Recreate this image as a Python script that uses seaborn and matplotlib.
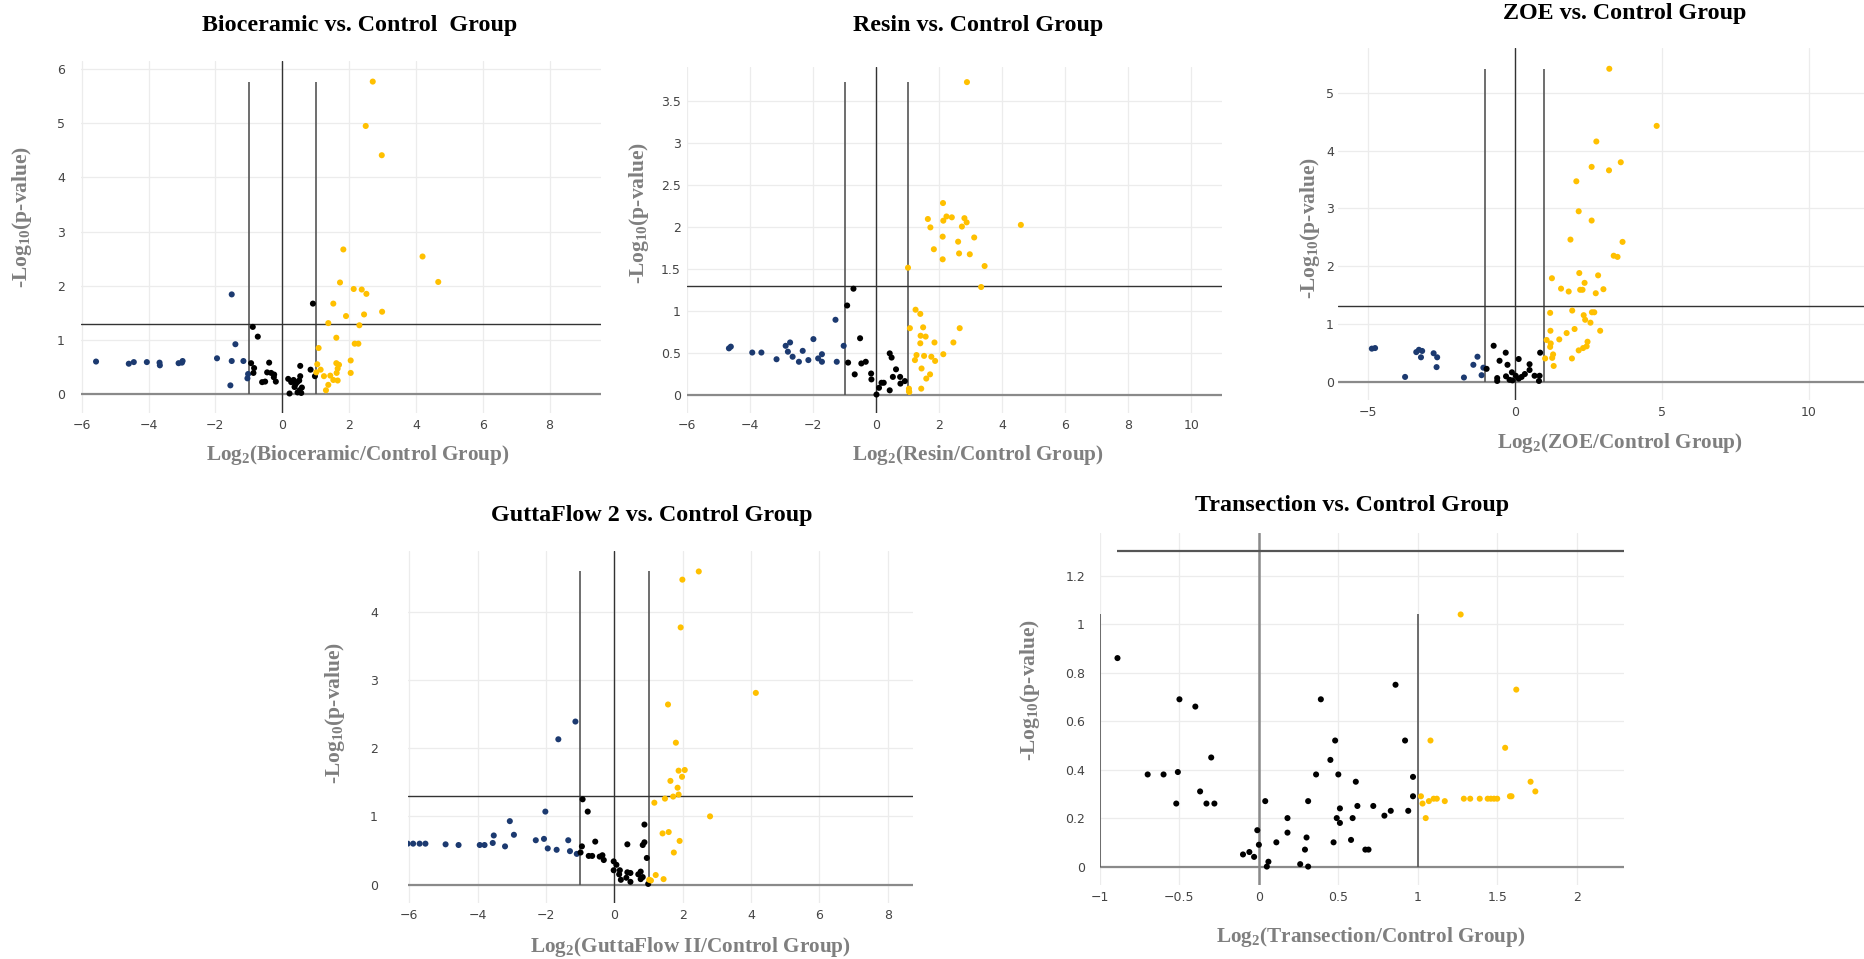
import numpy as np
import pandas as pd
import matplotlib
matplotlib.use("Agg")
import matplotlib.pyplot as plt
import seaborn as sns

sns.set_theme(style="white")
plt.rcParams['font.family'] = ['DejaVu Sans']
plt.rcParams['mathtext.fontset'] = 'custom'
plt.rcParams['mathtext.rm'] = 'Liberation Serif:bold'
plt.rcParams['mathtext.bf'] = 'Liberation Serif:bold'
plt.rcParams['mathtext.default'] = 'bf'

# ---------------- data ----------------
bio_x = [-5.57, -4.59, -4.44, -4.05, -3.67, -3.66, -3.10, -3.00, -2.98, -1.95, -1.51, -1.51, -1.55, -1.40, -1.16, -1.02, -1.04,
         -0.88, -0.73, -0.93, -0.84, -0.86, -0.39, -0.45, -0.33, -0.24, -0.25, -0.19, -0.60, -0.51, 0.18, 0.27, 0.34, 0.40,
         0.37, 0.45, 0.51, 0.54, 0.54, 0.22, 0.46, 0.57, 0.59, 0.52, 0.85, 0.92, 0.98,
         2.71, 2.50, 2.98, 1.83, 4.20, 4.67, 1.73, 2.14, 2.38, 2.52, 1.53, 1.91, 2.45, 2.99, 1.38, 2.31, 1.62, 2.17, 2.28,
         1.09, 2.05, 1.62, 1.70, 1.05, 1.66, 1.63, 2.05, 1.15, 1.02, 1.25, 1.44, 1.53, 1.66, 1.38, 1.31]
bio_y = [0.60, 0.56, 0.59, 0.59, 0.58, 0.53, 0.57, 0.58, 0.61, 0.66, 1.84, 0.61, 0.16, 0.92, 0.61, 0.37, 0.29,
         1.24, 1.06, 0.57, 0.48, 0.39, 0.58, 0.40, 0.39, 0.36, 0.31, 0.23, 0.22, 0.23, 0.28, 0.22, 0.26, 0.18,
         0.13, 0.22, 0.25, 0.33, 0.52, 0.01, 0.03, 0.02, 0.12, 0.07, 0.45, 1.67, 0.33,
         5.77, 4.95, 4.41, 2.67, 2.54, 2.07, 2.06, 1.94, 1.93, 1.85, 1.67, 1.44, 1.47, 1.52, 1.31, 1.27, 1.04, 0.93, 0.93,
         0.85, 0.62, 0.57, 0.54, 0.55, 0.47, 0.39, 0.39, 0.45, 0.40, 0.33, 0.34, 0.26, 0.25, 0.17, 0.07]

resin_x = [-4.61, -4.67, -3.93, -3.64, -3.16, -2.87, -2.73, -2.80, -2.65, -2.45, -2.33, -2.15, -1.99, -1.84, -1.72, -1.72,
           -1.29, -1.25, -1.03,
           -0.72, -0.92, -0.51, -0.89, -0.68, -0.47, -0.33, -0.16, -0.15, 0.01, 0.09, 0.17, 0.24, 0.43, 0.49, 0.43, 0.53,
           0.63, 0.76, 0.77, 0.91,
           2.88, 2.12, 1.64, 2.13, 2.23, 2.40, 2.80, 2.87, 1.72, 2.72, 4.59, 2.11, 2.60, 3.11, 1.83, 2.63, 2.97, 2.11,
           3.44, 1.01, 3.33, 1.25, 1.40, 1.07, 1.49, 2.65, 1.41, 1.57, 1.40, 1.85, 2.45, 1.28, 1.52, 1.75, 2.13, 1.23,
           1.87, 1.44, 1.71, 1.59, 1.43, 1.04, 1.04, 1.05]
resin_y = [0.58, 0.56, 0.51, 0.51, 0.43, 0.59, 0.63, 0.52, 0.46, 0.40, 0.53, 0.42, 0.67, 0.44, 0.49, 0.40,
           0.90, 0.40, 0.59,
           1.27, 1.07, 0.68, 0.39, 0.25, 0.38, 0.40, 0.26, 0.19, 0.01, 0.09, 0.15, 0.15, 0.50, 0.45, 0.06, 0.22,
           0.31, 0.22, 0.14, 0.17,
           3.73, 2.29, 2.10, 2.08, 2.13, 2.12, 2.11, 2.06, 2.00, 2.01, 2.03, 1.89, 1.83, 1.88, 1.74, 1.69, 1.68, 1.62,
           1.54, 1.52, 1.29, 1.02, 0.97, 0.80, 0.81, 0.80, 0.71, 0.70, 0.62, 0.63, 0.63, 0.48, 0.47, 0.46, 0.49, 0.42,
           0.41, 0.32, 0.25, 0.20, 0.08, 0.08, 0.05, 0.04]

zoe_x = [-4.86, -4.75, -3.35, -3.26, -3.15, -3.19, -3.73, -2.76, -2.64, -2.66, -1.73, -1.41, -1.27, -1.13, -1.07,
         -0.96, -0.72, -0.31, -0.52, -0.25, 0.13, -0.60, -0.60, -0.30, -0.18, -0.10, -0.08, 0.03, 0.13, 0.23, 0.34,
         0.50, 0.50, 0.67, 0.86, 0.84, 0.82,
         3.21, 4.82, 2.77, 3.60, 2.61, 3.20, 2.09, 2.17, 2.61, 1.89, 3.66, 3.36, 3.49, 2.19, 2.83, 1.26, 2.37, 1.57,
         1.83, 2.22, 2.30, 2.75, 3.01, 1.20, 1.95, 2.34, 2.39, 2.62, 2.70, 2.57, 1.21, 1.76, 2.03, 2.90, 1.08, 1.51,
         1.22, 1.20, 2.47, 2.44, 2.32, 2.17, 1.30, 1.27, 1.03, 1.94, 1.32]
zoe_y = [0.57, 0.58, 0.51, 0.55, 0.53, 0.42, 0.08, 0.49, 0.42, 0.25, 0.07, 0.29, 0.43, 0.11, 0.24,
         0.22, 0.62, 0.50, 0.36, 0.29, 0.39, 0.06, 0.01, 0.09, 0.03, 0.16, 0.02, 0.10, 0.05, 0.08, 0.13,
         0.20, 0.30, 0.10, 0.50, 0.10, 0.01,
         5.42, 4.43, 4.16, 3.80, 3.72, 3.66, 3.47, 2.95, 2.79, 2.46, 2.42, 2.18, 2.16, 1.88, 1.84, 1.79, 1.71, 1.61,
         1.56, 1.59, 1.59, 1.53, 1.60, 1.19, 1.23, 1.15, 1.07, 1.20, 1.20, 1.02, 0.88, 0.84, 0.91, 0.88, 0.72, 0.73,
         0.66, 0.60, 0.69, 0.61, 0.58, 0.54, 0.47, 0.41, 0.40, 0.40, 0.27]

gutta_x = [-6.05, -5.89, -5.70, -5.53, -4.94, -4.56, -3.94, -3.80, -3.56, -3.53, -3.20, -3.06, -2.94, -2.30, -2.06,
           -2.02, -1.95, -1.69, -1.64, -1.35, -1.30, -1.14, -1.10,
           -0.93, -0.78, -0.95, -0.99, -0.75, -0.65, -0.56, -0.43, -0.35, -0.31, -0.02, 0.06, -0.02, 0.16, 0.14, 0.19,
           0.38, 0.38, 0.47, 0.35, 0.47, 0.70, 0.77, 0.77, 0.83, 0.83, 0.88, 0.88, 0.95, 0.99,
           2.47, 1.99, 1.94, 4.14, 1.57, 1.80, 1.88, 2.06, 1.98, 1.64, 1.85, 1.88, 1.72, 1.48, 1.17, 2.80, 1.41, 1.59,
           1.91, 1.74, 1.21, 1.44, 1.02, 1.07]
gutta_y = [0.60, 0.60, 0.60, 0.60, 0.59, 0.58, 0.58, 0.58, 0.61, 0.72, 0.56, 0.93, 0.73, 0.65, 0.67,
           1.07, 0.53, 0.51, 2.13, 0.65, 0.49, 2.39, 0.45,
           1.25, 1.07, 0.56, 0.47, 0.42, 0.42, 0.63, 0.41, 0.43, 0.36, 0.34, 0.29, 0.21, 0.21, 0.15, 0.07,
           0.59, 0.18, 0.17, 0.10, 0.04, 0.15, 0.19, 0.08, 0.11, 0.58, 0.62, 0.88, 0.39, 0.01,
           4.59, 4.47, 3.77, 2.81, 2.64, 2.08, 1.67, 1.68, 1.58, 1.52, 1.42, 1.32, 1.29, 1.26, 1.20, 1.00, 0.75, 0.77,
           0.64, 0.47, 0.14, 0.08, 0.07, 0.06]

trans_x = [-0.89, -0.70, -0.60, -0.50, -0.51, -0.52, -0.40, -0.30, -0.37, -0.33, -0.28, -0.10, -0.06, -0.03, -0.01,
           0.00, 0.04, 0.05, 0.06, 0.11, 0.18, 0.18, 0.26, 0.29, 0.30, 0.31, 0.31, 0.36, 0.39, 0.45, 0.48, 0.47, 0.49,
           0.50, 0.51, 0.51, 0.58, 0.59, 0.61, 0.62, 0.67, 0.69, 0.72, 0.79, 0.83, 0.86, 0.92, 0.94, 0.97, 0.97,
           1.27, 1.62, 1.08, 1.55, 1.71, 1.74, 1.02, 1.03, 1.07, 1.10, 1.12, 1.17, 1.05, 1.29, 1.33, 1.39, 1.44, 1.46,
           1.48, 1.50, 1.58, 1.59]
trans_y = [0.86, 0.38, 0.38, 0.69, 0.39, 0.26, 0.66, 0.45, 0.31, 0.26, 0.26, 0.05, 0.06, 0.04, 0.15,
           0.09, 0.27, 0.00, 0.02, 0.10, 0.20, 0.14, 0.01, 0.07, 0.12, 0.00, 0.27, 0.38, 0.69, 0.44, 0.52, 0.10, 0.20,
           0.38, 0.24, 0.18, 0.11, 0.20, 0.35, 0.25, 0.07, 0.07, 0.25, 0.21, 0.23, 0.75, 0.52, 0.23, 0.37, 0.29,
           1.04, 0.73, 0.52, 0.49, 0.35, 0.31, 0.29, 0.26, 0.27, 0.28, 0.28, 0.27, 0.20, 0.28, 0.28, 0.28, 0.28, 0.28,
           0.28, 0.28, 0.29, 0.29]

titles = ["Bioceramic vs. Control  Group", "Resin vs. Control Group", "ZOE vs. Control Group",
          "GuttaFlow 2 vs. Control Group", "Transection vs. Control Group"]
xnames = ["Bioceramic", "Resin", "ZOE", "GuttaFlow II", "Transection"]

palette = {"down": "#1c3a70", "ns": "#000000", "up": "#ffc000"}

# ---------------- layout (pixels) ----------------
W, H = 1865, 959
fig = plt.figure(figsize=(W / 100, H / 100), dpi=100)

def px_axes(l, t, r, b):
    return fig.add_axes([l / W, 1 - b / H, (r - l) / W, (b - t) / H])

panels = [
    dict(x=bio_x, y=bio_y, box=(81, 61, 601, 413), xlim=(-6.02, 9.54), ylim=(-0.35, 6.15),
         xt=np.arange(-6, 9, 2), yt=np.arange(0, 7, 1), title=(360, 25), xl=(358, 455), yl=(22, 217),
         pad=16, hstart=None),
    dict(x=resin_x, y=resin_y, box=(687, 67, 1222, 413), xlim=(-6.0, 10.97), ylim=(-0.21, 3.91),
         xt=np.arange(-6, 11, 2), yt=np.arange(0, 3.6, 0.5), title=(978, 25), xl=(978, 455), yl=(639, 213),
         pad=6, hstart=None),
    dict(x=zoe_x, y=zoe_y, box=(1338, 48, 1865, 400), xlim=(-6.01, 11.9), ylim=(-0.32, 5.78),
         xt=np.array([-5, 0, 5, 10]), yt=np.arange(0, 6, 1), title=(1625, 13), xl=(1620, 443), yl=(1310, 228),
         pad=4, hstart=None),
    dict(x=gutta_x, y=gutta_y, box=(408, 551, 913, 903), xlim=(-6.04, 8.74), ylim=(-0.27, 4.89),
         xt=np.arange(-6, 9, 2), yt=np.arange(0, 5, 1), title=(652, 515), xl=(690, 947), yl=(335, 713),
         pad=30, hstart=None),
    dict(x=trans_x, y=trans_y, box=(1100, 533, 1624, 885), xlim=(-1.0, 2.298), ylim=(-0.076, 1.376),
         xt=np.arange(-1, 2.01, 0.5), yt=np.arange(0, 1.21, 0.2), title=(1352, 505), xl=(1371, 937), yl=(1030, 690),
         pad=15, hstart="min"),
]

def fmt(v):
    s = f"{v:g}"
    return s.replace("-", "\u2212")

for i, p in enumerate(panels):
    ax = px_axes(*p["box"])
    x = np.array(p["x"])
    y = np.array(p["y"])
    grp = np.where(x < -1, "down", np.where(x > 1, "up", "ns"))
    df = pd.DataFrame({"x": x, "y": y, "g": grp})
    ax.set_xlim(*p["xlim"])
    ax.set_ylim(*p["ylim"])
    ax.set_xticks(p["xt"])
    ax.set_yticks(p["yt"])
    ax.set_xticklabels([fmt(v) for v in p["xt"]])
    ax.set_yticklabels([fmt(round(v, 2)) for v in p["yt"]])
    ax.grid(True, color="#ececec", linewidth=0.9)
    ax.set_axisbelow(True)
    for s in ax.spines.values():
        s.set_visible(False)
    ax.tick_params(axis="both", length=0, labelsize=9, colors="#444444")
    ax.tick_params(axis="y", pad=p["pad"] * 0.72)
    ax.tick_params(axis="x", pad=4)

    # reference lines
    ax.axhline(0, color="#8a8a8a", linewidth=1.6, zorder=1)
    zc = "#8a8a8a" if i == 4 else "#333333"
    zw = 1.8 if i == 4 else 1.0
    ax.axvline(0, color=zc, linewidth=zw, zorder=1)
    ymax = y.max()
    ax.vlines([-1, 1], 0, ymax, color="#555555", linewidth=1.2, zorder=1)
    if p["hstart"] == "min":
        ax.hlines(-np.log10(0.05), x.min(), p["xlim"][1], color="#555555", linewidth=1.6, zorder=1)
    else:
        ax.axhline(-np.log10(0.05), color="#333333", linewidth=1.0, zorder=1)

    sns.scatterplot(data=df, x="x", y="y", hue="g", palette=palette, s=19, linewidth=0,
                    legend=False, ax=ax, zorder=3)
    ax.set_xlabel("")
    ax.set_ylabel("")

    tx, ty = p["title"]
    fig.text(tx / W, 1 - ty / H, titles[i], ha="center", va="center", fontsize=17.3,
             fontweight="bold", family="Liberation Serif", color="black")
    lx, ly = p["xl"]
    fig.text(lx / W, 1 - ly / H, "Log$_{2}$(" + xnames[i] + "/Control Group)", ha="center", va="center",
             fontsize=15.3, fontweight="bold", family="Liberation Serif", color="#7f7f7f")
    yx, yy = p["yl"]
    fig.text(yx / W, 1 - yy / H, "-Log$_{10}$(p-value)", ha="center", va="center", rotation=90,
             fontsize=15.5, fontweight="bold", family="Liberation Serif", color="#7f7f7f")

fig.savefig("out.png", dpi=100, facecolor="white")
